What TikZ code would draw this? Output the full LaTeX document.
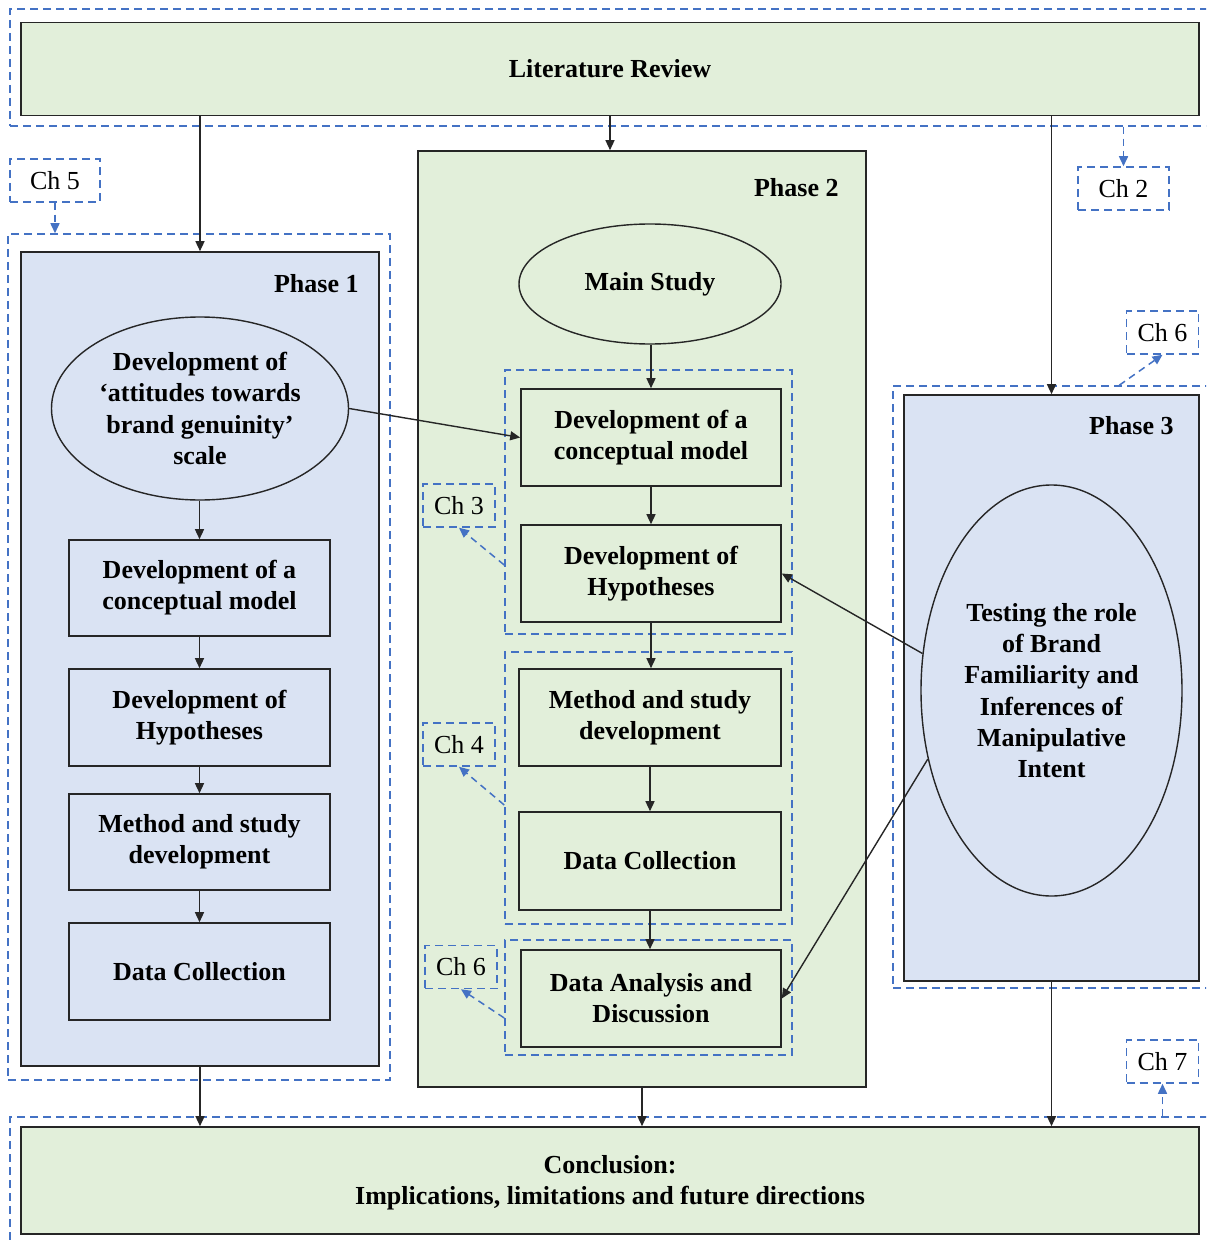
\documentclass[tikz,border=0pt]{standalone}
\usepackage{fontspec}
\setmainfont{Liberation Serif}
\usetikzlibrary{arrows.meta,shapes.geometric,calc}
\definecolor{boxgreen}{HTML}{E2EFDA}
\definecolor{boxblue}{HTML}{DAE3F3}
\definecolor{chblue}{HTML}{4472C4}
\definecolor{edge}{HTML}{262626}
\begin{document}
\begin{tikzpicture}[x=0.5pt,y=-0.5pt,
  txt/.style={font=\fontsize{13}{15.6}\selectfont\bfseries, align=center},
  chtxt/.style={font=\fontsize{13}{15.6}\selectfont},
  solidbox/.style={draw=edge, line width=0.8pt, rectangle, inner sep=0pt, txt},
  oval/.style={draw=edge, line width=0.7pt, ellipse, inner sep=0pt, txt},
  title/.style={txt, inner sep=0pt, anchor=east},
  group/.style={draw=chblue, dash pattern=on 4pt off 2.5pt, line width=0.75pt, rectangle, inner sep=0pt},
  chbox/.style={group, chtxt, minimum width=36pt, minimum height=21.5pt},
  flow/.style={draw=edge, line width=0.7pt, -{Triangle[length=5pt,width=4.5pt]}},
  chlink/.style={draw=chblue, dash pattern=on 3.5pt off 2.5pt, line width=0.75pt, -{Triangle[length=5pt,width=4.5pt]}}
]
\clip (0,0) rectangle (1206,1241);

% ---- outer dashed frames ----
\node[group, minimum width=605pt, minimum height=58.5pt] (gLR) at (615,67.5) {};
\node[group, minimum width=191pt, minimum height=423pt] (g1) at (199,657) {};
\node[group, minimum width=163.5pt, minimum height=301pt] (g3) at (1056.5,687) {};
\node[group, minimum width=605pt, minimum height=71.5pt] (gD) at (615,1188.5) {};

% ---- literature review and conclusion ----
\node[solidbox, fill=boxgreen, minimum width=589pt, minimum height=46.5pt] (lr) at (610,69) {Literature Review};
\node[solidbox, fill=boxgreen, minimum width=589pt, minimum height=53.5pt] (concl) at (610,1180.5) {};
\node[txt] (concltxt) at (610,1183) {Conclusion:\\Implications, limitations and future directions};

% ---- phase 1 ----
\node[solidbox, fill=boxblue, minimum width=179pt, minimum height=407pt] (p1) at (200,659) {};
\node[title] (ph1) at (359,284) {Phase 1};
\node[oval, fill=boxblue, minimum width=148.5pt, minimum height=91.5pt] (e1) at (200,408.5)
  {Development of\\‘attitudes towards\\brand genuinity’\\scale};
\node[solidbox, fill=boxblue, minimum width=130.5pt, minimum height=48pt] (b1a) at (199.5,588)
  {Development of a\\conceptual model};
\node[solidbox, fill=boxblue, minimum width=130.5pt, minimum height=48.5pt] (b1b) at (199.5,717.5)
  {Development of\\Hypotheses};
\node[solidbox, fill=boxblue, minimum width=130.5pt, minimum height=48pt] (b1c) at (199.5,842)
  {Method and study\\development};
\node[solidbox, fill=boxblue, minimum width=130.5pt, minimum height=48.5pt] (b1d) at (199.5,971.5)
  {Data Collection};

% ---- phase 2 ----
\node[solidbox, fill=boxgreen, minimum width=224pt, minimum height=468pt] (p2) at (642,619) {};
\node[title] (ph2) at (839,188) {Phase 2};
\node[oval, fill=boxgreen, minimum width=131pt, minimum height=60pt] (ms) at (650,284) {Main Study};
\node[group, minimum width=143.5pt, minimum height=132pt] (gA) at (648.5,502) {};
\node[group, minimum width=143.5pt, minimum height=136pt] (gB) at (648.5,788) {};
\node[group, minimum width=143.5pt, minimum height=57.5pt] (gC) at (648.5,997.5) {};
\node[solidbox, fill=boxgreen, minimum width=130pt, minimum height=48.5pt] (b2a) at (651,437.5)
  {Development of a\\conceptual model};
\node[solidbox, fill=boxgreen, minimum width=130pt, minimum height=48.5pt] (b2b) at (651,573.5)
  {Development of\\Hypotheses};
\node[solidbox, fill=boxgreen, minimum width=131pt, minimum height=48.5pt] (b2c) at (650,717.5)
  {Method and study\\development};
\node[solidbox, fill=boxgreen, minimum width=131pt, minimum height=49pt] (b2d) at (650,861)
  {Data Collection};
\node[solidbox, fill=boxgreen, minimum width=130pt, minimum height=48.5pt] (b2e) at (651,998.5)
  {Data Analysis and\\Discussion};

% ---- phase 3 ----
\node[solidbox, fill=boxblue, minimum width=147.5pt, minimum height=293pt] (p3) at (1051.5,688) {};
\node[title] (ph3) at (1174,426) {Phase 3};
\node[oval, fill=boxblue, minimum width=130.5pt, minimum height=205.5pt] (e3) at (1051.5,690.5)
  {Testing the role\\of Brand\\Familiarity and\\Inferences of\\Manipulative\\Intent};

% ---- chapter labels ----
\node[chbox, minimum width=45pt] (ch5) at (55,180.5) {Ch 5};
\node[chbox, minimum width=45.5pt] (ch2) at (1123.5,188.5) {Ch 2};
\node[chbox] (ch6b) at (1162.5,332.5) {Ch 6};
\node[chbox] (ch3) at (459,505.5) {Ch 3};
\node[chbox] (ch4) at (459,744.5) {Ch 4};
\node[chbox] (ch6a) at (461,967) {Ch 6};
\node[chbox] (ch7) at (1162.5,1061.5) {Ch 7};

% ---- main flow ----
\draw[flow] (p1.north |- lr.south) -- (p1.north);
\draw[flow] (lr.south) -- (lr.south |- p2.north);
\draw[flow] (p3.north |- lr.south) -- (p3.north);
\draw[flow] (b1a.north |- e1.south) -- (b1a.north);
\draw[flow] (b1a.south) -- (b1b.north);
\draw[flow] (b1b.south) -- (b1c.north);
\draw[flow] (b1c.south) -- (b1d.north);
\draw[flow] (b2a.north |- ms.south) -- (b2a.north);
\draw[flow] (b2a.south) -- (b2b.north);
\draw[flow] (b2b.south) -- (b2b.south |- b2c.north);
\draw[flow] (b2c.south) -- (b2d.north);
\draw[flow] (b2d.south) -- (b2d.south |- b2e.north);
\draw[flow] (e1.east) -- (b2a.west);
\draw[flow] (e3.164) -- (b2b.east);
\draw[flow] (e3.209.7) -- (b2e.east);
\draw[flow] (p1.south) -- (p1.south |- concl.north);
\draw[flow] (p2.south) -- (p2.south |- concl.north);
\draw[flow] (p3.south) -- (p3.south |- concl.north);

% ---- chapter references ----
\draw[chlink] (ch5.south) -- (ch5.south |- g1.north);
\draw[chlink] (ch2.north |- gLR.south) -- (ch2.north);
\draw[chlink] ($(g3.north west)+(227,0)$) -- (ch6b.south);
\draw[chlink] ($(gA.west)+(0,63)$) -- (ch3.south);
\draw[chlink] ($(gB.west)+(0,17)$) -- (ch4.south);
\draw[chlink] ($(gC.west)+(0,20.5)$) -- (ch6a.south);
\draw[chlink] (ch7.south |- gD.north) -- (ch7.south);
\end{tikzpicture}
\end{document}
